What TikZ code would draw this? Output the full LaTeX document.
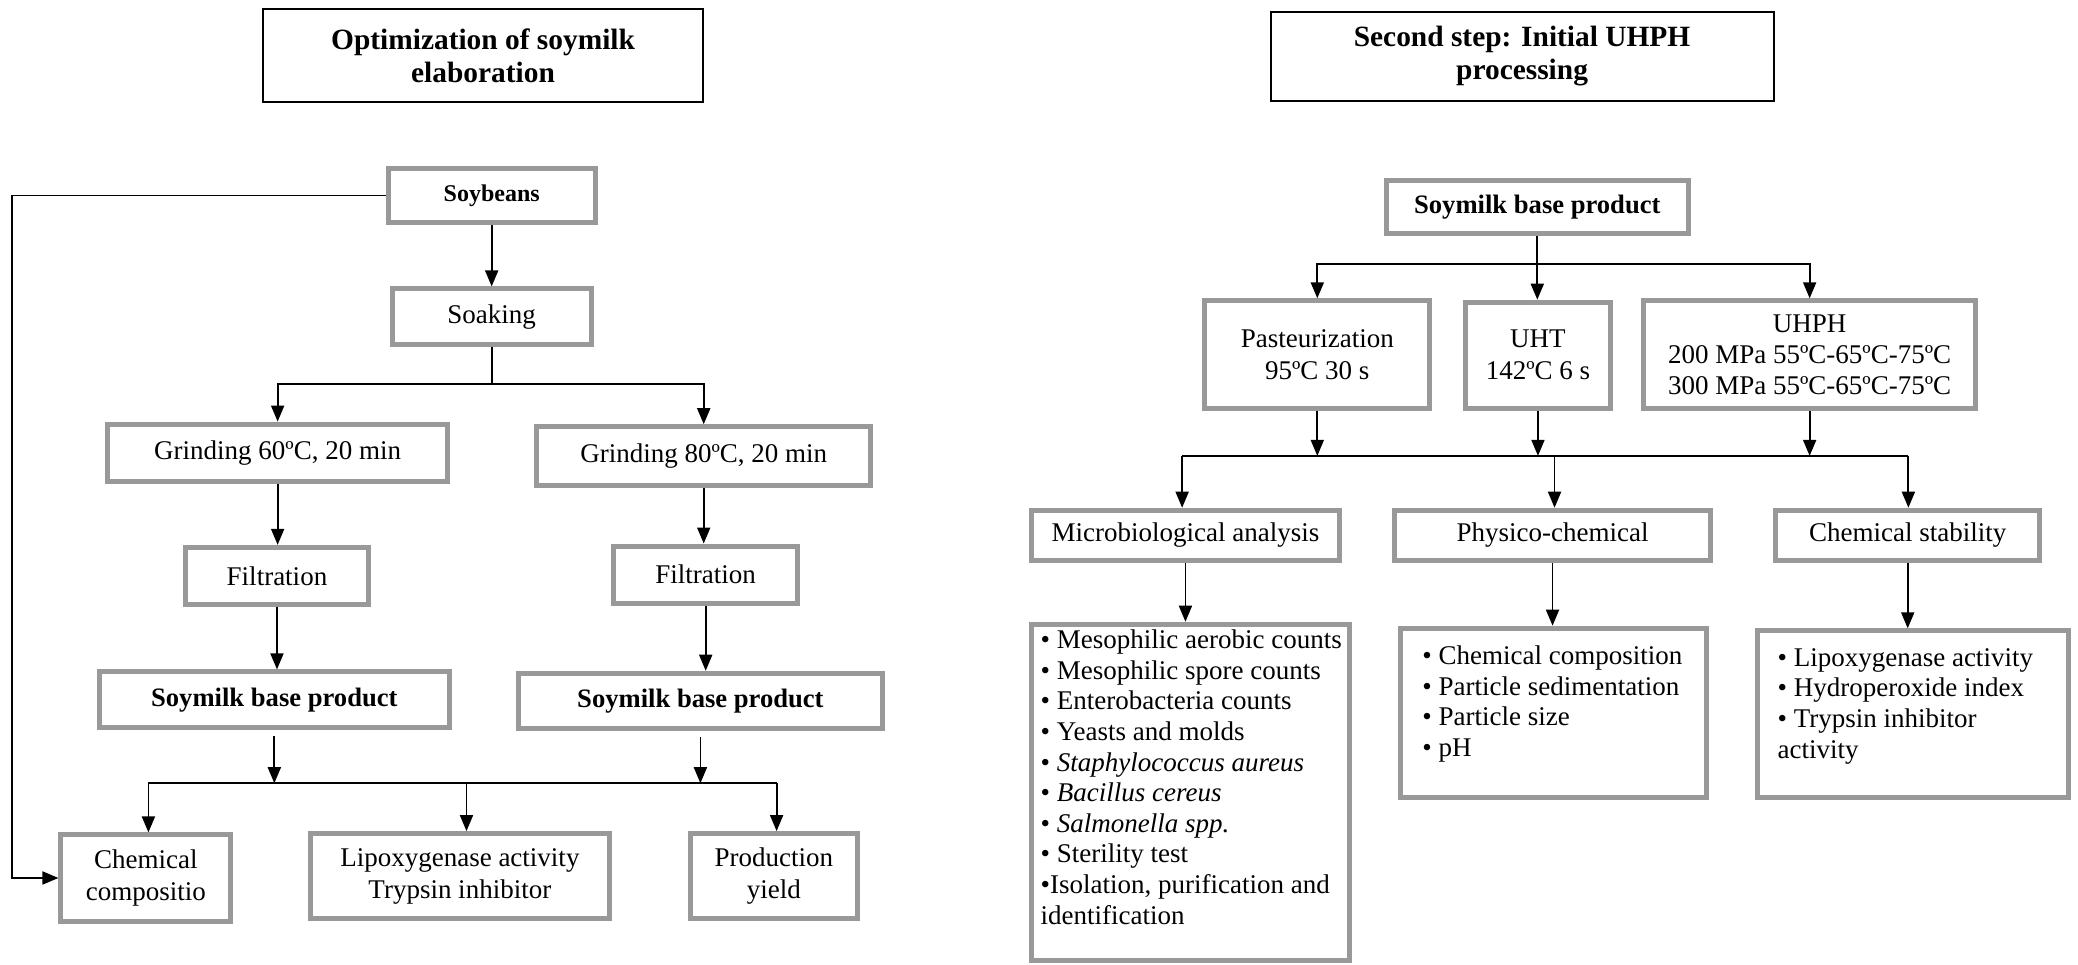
\documentclass[tikz,border=0pt]{standalone}
\usepackage{fontspec}
\setmainfont{Liberation Serif}
\usetikzlibrary{arrows.meta}
\definecolor{boxgray}{RGB}{153,153,153}
\newcommand\ntext{\fontsize{13.5pt}{15.3pt}\selectfont}
\newcommand\ttext{\fontsize{14.7pt}{16.6pt}\selectfont\bfseries}
\begin{document}
\begin{tikzpicture}[x=0.6626pt,y=-0.6626pt,
  sz/.style 2 args={minimum width=#1*0.6626pt, minimum height=#2*0.6626pt},
  gbox/.style={draw=boxgray, line width=2.5pt, fill=white, inner sep=1pt, align=center, font=\ntext},
  tbox/.style={draw=black, line width=1pt, fill=white, inner sep=1pt, align=center, font=\ttext},
  listtext/.style={anchor=north west, inner sep=0pt, align=left, font=\ntext},
  conn/.style={draw=black, line width=0.9pt},
  arr/.style={conn, -{Triangle[length=8pt,width=6.5pt]}}]
\useasboundingbox (0,0) rectangle (1568,728);

% ---------------- Left part ----------------
\node[tbox, sz={331.5}{70.5}] (titleL) at (364.5,42) {Optimization of soymilk\\elaboration};

\node[gbox, sz={156}{41}, font=\fontsize{12pt}{14pt}\selectfont\bfseries] (soy) at (371,147.5) {Soybeans};
\node[gbox, sz={150}{42}] (soak) at (371,239) {Soaking};
\node[gbox, sz={257}{43}] (g60) at (209.5,341.5) {Grinding 60ºC, 20 min};
\node[gbox, sz={252}{44}] (g80) at (531,344) {Grinding 80ºC, 20 min};
\node[gbox, sz={138}{43}] (f60) at (209,434.5) {Filtration};
\node[gbox, sz={139}{43}] (f80) at (532.5,433.5) {Filtration};
\node[gbox, sz={264}{42}, font=\fontsize{13.3pt}{15pt}\selectfont\bfseries] (sb60) at (207,528) {Soymilk base product};
\node[gbox, sz={275}{42}, font=\fontsize{13.3pt}{15pt}\selectfont\bfseries] (sb80) at (528.5,529) {Soymilk base product};
\node[gbox, sz={128}{65}, font=\fontsize{13.5pt}{16pt}\selectfont] (chem) at (110,662.5) {Chemical\\compositio};
\node[gbox, sz={226}{64}, font=\fontsize{13.5pt}{16pt}\selectfont] (lipo) at (347,661) {Lipoxygenase activity\\Trypsin inhibitor};
\node[gbox, sz={126}{64}, font=\fontsize{13.5pt}{16pt}\selectfont] (prod) at (584,661) {Production\\yield};

\draw[arr] (soy) -- (soak);
\coordinate (sj) at (371,290);
\draw[conn] (soak.south) -- (sj);
\draw[arr] (sj) -| (g60.north);
\draw[arr] (sj) -| (g80.north);
\draw[arr] (g60.south) -- (g60.south |- f60.north);
\draw[arr] (f60.south) -- (f60.south |- sb60.north);
\draw[arr] (g80.south) -- (g80.south |- f80.north);
\draw[arr] (f80.south) -- (f80.south |- sb80.north);
\coordinate (bl) at (112,591);
\coordinate (bm) at (352,591);
\coordinate (br) at (586,591);
\draw[conn] (bl) -- (br);
\draw[arr, shorten <=3pt] (sb60.south) -- (sb60.south |- bl);
\draw[arr, shorten <=3pt] (sb80.south) -- (sb80.south |- br);
\draw[arr] (bl) -- (bl |- chem.north);
\draw[arr] (bm) -- (bm |- lipo.north);
\draw[arr] (br) -- (br |- prod.north);
\coordinate (lft) at (9,147.5);
\draw[arr] (soy.west) -- (lft) |- (chem.west);

% ---------------- Right part ----------------
\node[tbox, sz={379.5}{67.5}] (titleR) at (1148.5,42.5) {Second step: Initial UHPH\\processing};

\node[gbox, sz={228}{40}, font=\fontsize{13.3pt}{15pt}\selectfont\bfseries] (sbr) at (1160,156) {Soymilk base product};
\node[gbox, sz={170}{81}, font=\fontsize{13.5pt}{15.9pt}\selectfont] (past) at (994,267.5) {Pasteurization\\95ºC 30 s};
\node[gbox, sz={109}{80}, font=\fontsize{13.5pt}{15.9pt}\selectfont] (uht) at (1160.5,268) {UHT\\142ºC 6 s};
\node[gbox, sz={251}{81}, font=\fontsize{13.5pt}{15.6pt}\selectfont] (uhph) at (1365.5,267.5) {UHPH\\200 MPa 55ºC-65ºC-75ºC\\300 MPa 55ºC-65ºC-75ºC};
\node[gbox, sz={233}{38}] (micro) at (894.5,404) {Microbiological analysis};
\node[gbox, sz={239}{38}] (phys) at (1171.5,404) {Physico-chemical};
\node[gbox, sz={199}{38}] (stab) at (1439.5,404) {Chemical stability};

\node[gbox, sz={240}{254}] (mlist) at (898.5,598) {};
\node[gbox, sz={231}{128}] (plist) at (1172.5,538) {};
\node[gbox, sz={235}{126}] (slist) at (1443.5,539) {};

\node[listtext] (mtxt) at (785,475) {• Mesophilic aerobic counts\\
• Mesophilic spore counts\\
• Enterobacteria counts\\
• Yeasts and molds\\
• \textit{Staphylococcus aureus}\\
• \textit{Bacillus cereus}\\
• \textit{Salmonella spp.}\\
• Sterility test\\
•Isolation, purification and\\
identification};
\node[listtext] (ptxt) at (1073,487) {• Chemical composition\\
• Particle sedimentation\\
• Particle size\\
• pH};
\node[listtext] (stxt) at (1341,489) {• Lipoxygenase activity\\
• Hydroperoxide index\\
• Trypsin inhibitor\\
activity};

\draw[arr] (sbr.south) -- (sbr.south |- uht.north);
\coordinate (rj) at (1160,199);
\draw[arr] (rj) -| (past.north);
\draw[arr] (rj) -| (uhph.north);
\coordinate (rl) at (892,344);
\coordinate (rm) at (1173,344);
\coordinate (rr) at (1440,344);
\draw[conn] (rl) -- (rr);
\draw[arr] (past.south) -- (past.south |- rl);
\draw[arr] (uht.south) -- (uht.south |- rl);
\draw[arr] (uhph.south) -- (uhph.south |- rl);
\draw[arr] (rl) -- (rl |- micro.north);
\draw[arr] (rm) -- (rm |- phys.north);
\draw[arr] (rr) -- (rr |- stab.north);
\draw[arr] (micro.south) -- (micro.south |- mlist.north);
\draw[arr] (phys.south) -- (phys.south |- plist.north);
\draw[arr] (stab.south) -- (stab.south |- slist.north);
\end{tikzpicture}
\end{document}
